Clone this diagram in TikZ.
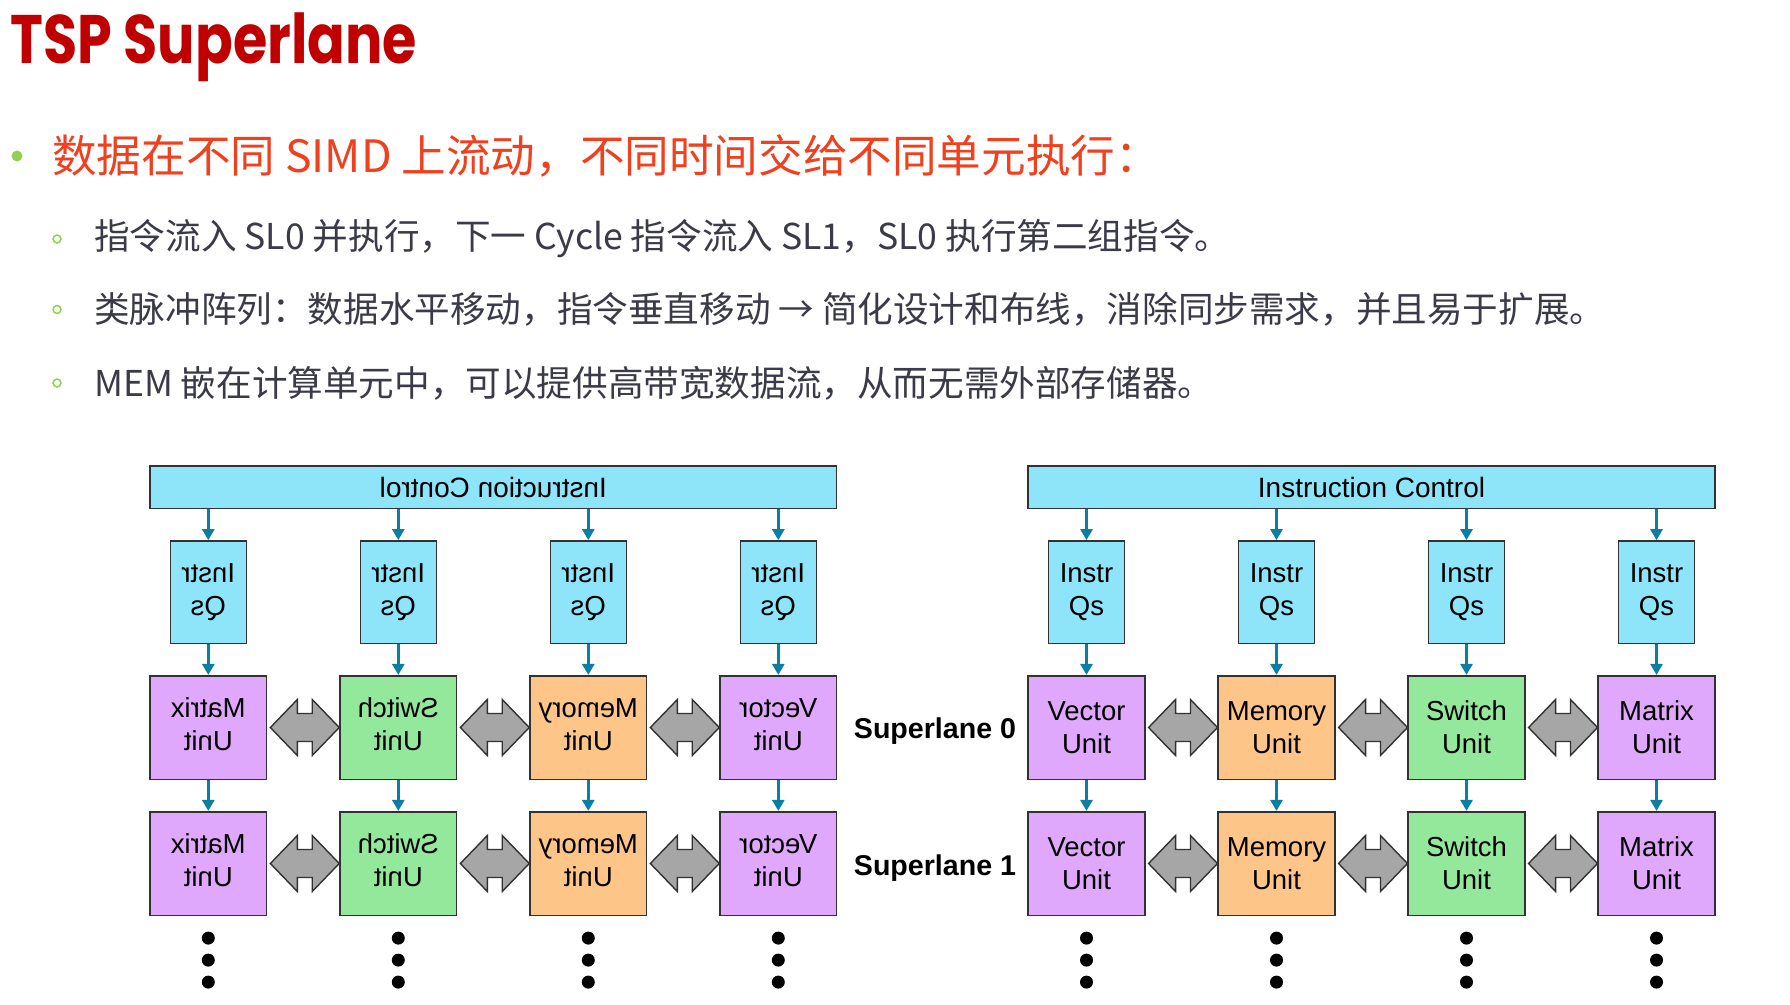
\documentclass[tikz,border=0pt]{standalone}
\usepackage{fontspec}
\usepackage{graphicx}
\usetikzlibrary{arrows.meta,calc}
\setmainfont{Liberation Sans}
\newfontfamily\cjk{Noto Sans CJK SC}
\newfontfamily\titlefont{Poppins Bold}[FakeStretch=0.81]
\definecolor{titlered}{RGB}{192,0,0}
\definecolor{leadred}{RGB}{240,64,30}
\definecolor{bodygray}{RGB}{58,58,72}
\definecolor{bulletgreen}{RGB}{146,208,80}
\definecolor{ctrlcyan}{RGB}{142,228,248}
\definecolor{unitviolet}{RGB}{224,168,252}
\definecolor{unitgreen}{RGB}{148,232,156}
\definecolor{unitorange}{RGB}{254,197,137}
\definecolor{flowteal}{RGB}{10,127,163}
\definecolor{boxline}{RGB}{50,50,50}
\definecolor{busgray}{RGB}{166,166,166}

\begin{document}
\begin{tikzpicture}[x=1pt, y=-1pt,
  ctrl/.style={draw=boxline, fill=ctrlcyan, line width=1.6pt, minimum width=686.5pt, minimum height=42.6pt, inner sep=0pt, font=\fontsize{28}{33}\selectfont},
  qbox/.style={draw=boxline, fill=ctrlcyan, line width=1.6pt, minimum width=76pt, minimum height=102.7pt, inner sep=0pt, align=center, font=\fontsize{27.5}{33}\selectfont},
  unit/.style={draw=boxline, line width=1.6pt, minimum width=116.5pt, minimum height=103.6pt, inner sep=0pt, align=center, font=\fontsize{27.5}{33}\selectfont},
  flow/.style={flowteal, line width=3.5pt, -{Triangle[length=11pt,width=12pt]}},
  bus/.style={fill=busgray, draw=boxline, line width=1.4pt, line join=miter},
  lane/.style={font=\bfseries\fontsize{28.6}{33}\selectfont},
  vdot/.style={fill=black}]
  \fill[white] (0,0) rectangle (1790,1004);
  \useasboundingbox (0,0) rectangle (1790,1004);
  \node[anchor=base west, inner sep=0pt, text=titlered, font=\titlefont\fontsize{68.6}{80}\selectfont] (title) at (10,63) {TSP Superlane};
  \fill[bulletgreen] (17,156) circle (5.5);
  \node[anchor=west, inner sep=0pt, text=leadred, font=\cjk\fontsize{44.6}{50}\selectfont] (lead) at (52,156) {数据在不同 SIMD 上流动，不同时间交给不同单元执行：};
  \draw[bulletgreen, line width=1.5pt] (57,239) circle (4);
  \node[anchor=west, inner sep=0pt, text=bodygray, font=\cjk\fontsize{35.6}{42}\selectfont] (pt1) at (94,239) {指令流入 SL0 并执行，下一 Cycle 指令流入 SL1，SL0 执行第二组指令。};
  \draw[bulletgreen, line width=1.5pt] (57,309.5) circle (4);
  \node[anchor=west, inner sep=0pt, text=bodygray, font=\cjk\fontsize{35.6}{42}\selectfont] (pt2) at (94,309.5) {类脉冲阵列：数据水平移动，指令垂直移动 → 简化设计和布线，消除同步需求，并且易于扩展。};
  \draw[bulletgreen, line width=1.5pt] (57,383) circle (4);
  \node[anchor=west, inner sep=0pt, text=bodygray, font=\cjk\fontsize{35.6}{42}\selectfont] (pt3) at (94,383) {MEM 嵌在计算单元中，可以提供高带宽数据流，从而无需外部存储器。};

  \node[ctrl] (icL) at (493.3,487) {\reflectbox{Instruction Control}};
  \node[qbox] (qsL1) at (208.3,592.3) {\reflectbox{\begin{tabular}{@{}c@{}}Instr\\Qs\end{tabular}}};
  \node[qbox] (qsL2) at (398.3,592.3) {\reflectbox{\begin{tabular}{@{}c@{}}Instr\\Qs\end{tabular}}};
  \node[qbox] (qsL3) at (588.3,592.3) {\reflectbox{\begin{tabular}{@{}c@{}}Instr\\Qs\end{tabular}}};
  \node[qbox] (qsL4) at (778.3,592.3) {\reflectbox{\begin{tabular}{@{}c@{}}Instr\\Qs\end{tabular}}};
  \node[unit, fill=unitviolet] (matL0) at (208.3,727.5) {\reflectbox{\begin{tabular}{@{}c@{}}Matrix\\Unit\end{tabular}}};
  \node[unit, fill=unitgreen] (swL0) at (398.3,727.5) {\reflectbox{\begin{tabular}{@{}c@{}}Switch\\Unit\end{tabular}}};
  \node[unit, fill=unitorange] (memL0) at (588.3,727.5) {\reflectbox{\begin{tabular}{@{}c@{}}Memory\\Unit\end{tabular}}};
  \node[unit, fill=unitviolet] (vecL0) at (778.3,727.5) {\reflectbox{\begin{tabular}{@{}c@{}}Vector\\Unit\end{tabular}}};
  \node[unit, fill=unitviolet] (matL1) at (208.3,863.5) {\reflectbox{\begin{tabular}{@{}c@{}}Matrix\\Unit\end{tabular}}};
  \node[unit, fill=unitgreen] (swL1) at (398.3,863.5) {\reflectbox{\begin{tabular}{@{}c@{}}Switch\\Unit\end{tabular}}};
  \node[unit, fill=unitorange] (memL1) at (588.3,863.5) {\reflectbox{\begin{tabular}{@{}c@{}}Memory\\Unit\end{tabular}}};
  \node[unit, fill=unitviolet] (vecL1) at (778.3,863.5) {\reflectbox{\begin{tabular}{@{}c@{}}Vector\\Unit\end{tabular}}};

  \node[ctrl] (icR) at (1371.5,487) {Instruction Control};
  \node[qbox] (qsR1) at (1086.5,592.3) {Instr\\Qs};
  \node[qbox] (qsR2) at (1276.5,592.3) {Instr\\Qs};
  \node[qbox] (qsR3) at (1466.5,592.3) {Instr\\Qs};
  \node[qbox] (qsR4) at (1656.5,592.3) {Instr\\Qs};
  \node[unit, fill=unitviolet] (vecR0) at (1086.5,727.5) {Vector\\Unit};
  \node[unit, fill=unitorange] (memR0) at (1276.5,727.5) {Memory\\Unit};
  \node[unit, fill=unitgreen] (swR0) at (1466.5,727.5) {Switch\\Unit};
  \node[unit, fill=unitviolet] (matR0) at (1656.5,727.5) {Matrix\\Unit};
  \node[unit, fill=unitviolet] (vecR1) at (1086.5,863.5) {Vector\\Unit};
  \node[unit, fill=unitorange] (memR1) at (1276.5,863.5) {Memory\\Unit};
  \node[unit, fill=unitgreen] (swR1) at (1466.5,863.5) {Switch\\Unit};
  \node[unit, fill=unitviolet] (matR1) at (1656.5,863.5) {Matrix\\Unit};

  \node[lane] (sl0) at (935,731.5) {Superlane 0};
  \node[lane] (sl1) at (935,868) {Superlane 1};

  \draw[flow] (qsL1.north |- icL.south) -- (qsL1.north);
  \draw[flow] (qsL2.north |- icL.south) -- (qsL2.north);
  \draw[flow] (qsL3.north |- icL.south) -- (qsL3.north);
  \draw[flow] (qsL4.north |- icL.south) -- (qsL4.north);
  \draw[flow] (qsL1.south) -- (matL0.north);
  \draw[flow] (qsL2.south) -- (swL0.north);
  \draw[flow] (qsL3.south) -- (memL0.north);
  \draw[flow] (qsL4.south) -- (vecL0.north);
  \draw[flow] (matL0.south) -- (matL1.north);
  \draw[flow] (swL0.south) -- (swL1.north);
  \draw[flow] (memL0.south) -- (memL1.north);
  \draw[flow] (vecL0.south) -- (vecL1.north);
  \draw[flow] (qsR1.north |- icR.south) -- (qsR1.north);
  \draw[flow] (qsR2.north |- icR.south) -- (qsR2.north);
  \draw[flow] (qsR3.north |- icR.south) -- (qsR3.north);
  \draw[flow] (qsR4.north |- icR.south) -- (qsR4.north);
  \draw[flow] (qsR1.south) -- (vecR0.north);
  \draw[flow] (qsR2.south) -- (memR0.north);
  \draw[flow] (qsR3.south) -- (swR0.north);
  \draw[flow] (qsR4.south) -- (matR0.north);
  \draw[flow] (vecR0.south) -- (vecR1.north);
  \draw[flow] (memR0.south) -- (memR1.north);
  \draw[flow] (swR0.south) -- (swR1.north);
  \draw[flow] (matR0.south) -- (matR1.north);

  \draw[bus] ([xshift=3pt]matL0.east) coordinate (t) -- ++(27,-28) -- ++(0,14) -- ($(swL0.west)+(-27,-14)$) -- ++(0,-14) -- (swL0.west) -- ++(-27,28) -- ++(0,-14) -- ($(t)+(27,14)$) -- ++(0,14) -- cycle;
  \draw[bus] ([xshift=3pt]swL0.east) coordinate (t) -- ++(27,-28) -- ++(0,14) -- ($(memL0.west)+(-27,-14)$) -- ++(0,-14) -- (memL0.west) -- ++(-27,28) -- ++(0,-14) -- ($(t)+(27,14)$) -- ++(0,14) -- cycle;
  \draw[bus] ([xshift=3pt]memL0.east) coordinate (t) -- ++(27,-28) -- ++(0,14) -- ($(vecL0.west)+(-27,-14)$) -- ++(0,-14) -- (vecL0.west) -- ++(-27,28) -- ++(0,-14) -- ($(t)+(27,14)$) -- ++(0,14) -- cycle;
  \draw[bus] ([xshift=3pt]matL1.east) coordinate (t) -- ++(27,-28) -- ++(0,14) -- ($(swL1.west)+(-27,-14)$) -- ++(0,-14) -- (swL1.west) -- ++(-27,28) -- ++(0,-14) -- ($(t)+(27,14)$) -- ++(0,14) -- cycle;
  \draw[bus] ([xshift=3pt]swL1.east) coordinate (t) -- ++(27,-28) -- ++(0,14) -- ($(memL1.west)+(-27,-14)$) -- ++(0,-14) -- (memL1.west) -- ++(-27,28) -- ++(0,-14) -- ($(t)+(27,14)$) -- ++(0,14) -- cycle;
  \draw[bus] ([xshift=3pt]memL1.east) coordinate (t) -- ++(27,-28) -- ++(0,14) -- ($(vecL1.west)+(-27,-14)$) -- ++(0,-14) -- (vecL1.west) -- ++(-27,28) -- ++(0,-14) -- ($(t)+(27,14)$) -- ++(0,14) -- cycle;
  \draw[bus] ([xshift=3pt]vecR0.east) coordinate (t) -- ++(27,-28) -- ++(0,14) -- ($(memR0.west)+(-27,-14)$) -- ++(0,-14) -- (memR0.west) -- ++(-27,28) -- ++(0,-14) -- ($(t)+(27,14)$) -- ++(0,14) -- cycle;
  \draw[bus] ([xshift=3pt]memR0.east) coordinate (t) -- ++(27,-28) -- ++(0,14) -- ($(swR0.west)+(-27,-14)$) -- ++(0,-14) -- (swR0.west) -- ++(-27,28) -- ++(0,-14) -- ($(t)+(27,14)$) -- ++(0,14) -- cycle;
  \draw[bus] ([xshift=3pt]swR0.east) coordinate (t) -- ++(27,-28) -- ++(0,14) -- ($(matR0.west)+(-27,-14)$) -- ++(0,-14) -- (matR0.west) -- ++(-27,28) -- ++(0,-14) -- ($(t)+(27,14)$) -- ++(0,14) -- cycle;
  \draw[bus] ([xshift=3pt]vecR1.east) coordinate (t) -- ++(27,-28) -- ++(0,14) -- ($(memR1.west)+(-27,-14)$) -- ++(0,-14) -- (memR1.west) -- ++(-27,28) -- ++(0,-14) -- ($(t)+(27,14)$) -- ++(0,14) -- cycle;
  \draw[bus] ([xshift=3pt]memR1.east) coordinate (t) -- ++(27,-28) -- ++(0,14) -- ($(swR1.west)+(-27,-14)$) -- ++(0,-14) -- (swR1.west) -- ++(-27,28) -- ++(0,-14) -- ($(t)+(27,14)$) -- ++(0,14) -- cycle;
  \draw[bus] ([xshift=3pt]swR1.east) coordinate (t) -- ++(27,-28) -- ++(0,14) -- ($(matR1.west)+(-27,-14)$) -- ++(0,-14) -- (matR1.west) -- ++(-27,28) -- ++(0,-14) -- ($(t)+(27,14)$) -- ++(0,14) -- cycle;

  \fill[vdot] (matL1.south) ++(0,22) circle (6.5) ++(0,22) circle (6.5) ++(0,22) circle (6.5);
  \fill[vdot] (swL1.south) ++(0,22) circle (6.5) ++(0,22) circle (6.5) ++(0,22) circle (6.5);
  \fill[vdot] (memL1.south) ++(0,22) circle (6.5) ++(0,22) circle (6.5) ++(0,22) circle (6.5);
  \fill[vdot] (vecL1.south) ++(0,22) circle (6.5) ++(0,22) circle (6.5) ++(0,22) circle (6.5);
  \fill[vdot] (vecR1.south) ++(0,22) circle (6.5) ++(0,22) circle (6.5) ++(0,22) circle (6.5);
  \fill[vdot] (memR1.south) ++(0,22) circle (6.5) ++(0,22) circle (6.5) ++(0,22) circle (6.5);
  \fill[vdot] (swR1.south) ++(0,22) circle (6.5) ++(0,22) circle (6.5) ++(0,22) circle (6.5);
  \fill[vdot] (matR1.south) ++(0,22) circle (6.5) ++(0,22) circle (6.5) ++(0,22) circle (6.5);
\end{tikzpicture}
\end{document}
